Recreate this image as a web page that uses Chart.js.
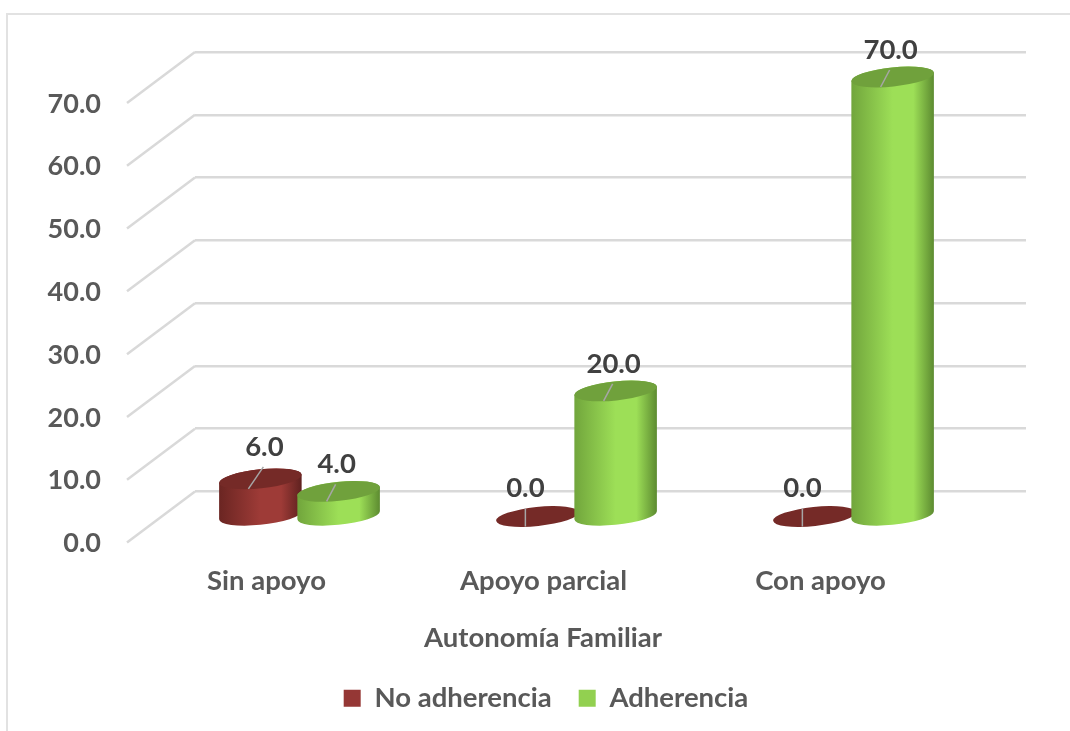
<!DOCTYPE html>
<html lang="es">
<head>
<meta charset="utf-8">
<title>Autonomía Familiar</title>
<script src="https://cdn.jsdelivr.net/npm/chart.js@4"></script>
<style>
  html, body { margin: 0; padding: 0; background: #fff; overflow: hidden; }
  #wrap { position: relative; width: 1070px; height: 731px; }
  #frame { position: absolute; left: 6px; top: 13px; right: 0; bottom: 0; border-left: 2px solid #e2e2e2; border-top: 2px solid #e2e2e2; }
  canvas { position: absolute; left: 0; top: 0; }
</style>
</head>
<body>
<div id="wrap">
  <div id="frame"></div>
  <canvas id="chart" width="1070" height="731"></canvas>
</div>
<script>
const categories = ['Sin apoyo', 'Apoyo parcial', 'Con apoyo'];
const noAdherencia = [6, 0, 0];
const adherencia = [4, 20, 70];
const axisTitle = 'Autonomía Familiar';

// depth of the fake 3D floor, wall -> front edge
const DEPTH_X = -68;
const DEPTH_Y = 51;
// cylinders stand half way along the floor
const BAR_DX = -34;
const BAR_DY = 25;
const TILT = -6 * Math.PI / 180;

const FONT = { family: 'Lato', weight: 'bold', size: 27.5 };

const palette = [
  { top: '#752a27', edge: '#6a2522', mid: '#9e3b37', dark: '#5e211f' },
  { top: '#70a13c', edge: '#71a53c', mid: '#9ddf57', dark: '#5c8a30' }
];

function sideGradient(ctx, x0, x1, c) {
  const g = ctx.createLinearGradient(x0, 0, x1, 0);
  g.addColorStop(0, c.edge);
  g.addColorStop(0.5, c.mid);
  g.addColorStop(0.75, c.mid);
  g.addColorStop(1, c.dark);
  return g;
}

function drawCylinder(ctx, cx, top, base, width, c) {
  const b = width * 0.115;
  // half width so the tilted ellipse spans the full bar width
  const a = width / 2;
  const t0 = Math.atan2(-b * Math.sin(TILT), a * Math.cos(TILT));

  if (base - top > 0.5) {
    ctx.beginPath();
    ctx.ellipse(cx, base, a, b, TILT, t0, t0 + Math.PI);
    ctx.ellipse(cx, top, a, b, TILT, t0 + Math.PI, t0 + 2 * Math.PI);
    ctx.closePath();
    ctx.fillStyle = sideGradient(ctx, cx - a, cx + a, c);
    ctx.fill();
  }
  ctx.beginPath();
  ctx.ellipse(cx, top, a, b, TILT, 0, 2 * Math.PI);
  ctx.fillStyle = c.top;
  ctx.fill();
}

const cylinders = {
  id: 'cylinders',
  afterLayout(chart) {
    // legend and title sit right of the canvas centre
    [[chart.legend, 33], [chart.titleBlock, 30]].forEach(([box, dx]) => {
      box.left += dx;
      box.right += dx;
    });
  },
  beforeDatasetsDraw(chart) {
    const { ctx, chartArea, scales } = chart;
    // floor lines running forward from the back wall
    ctx.save();
    ctx.strokeStyle = '#d9d9d9';
    ctx.lineWidth = 2.5;
    scales.y.ticks.forEach(t => {
      const y = scales.y.getPixelForValue(t.value);
      ctx.beginPath();
      ctx.moveTo(chartArea.left, y);
      ctx.lineTo(chartArea.left + DEPTH_X, y + DEPTH_Y);
      ctx.stroke();
    });
    ctx.restore();
  },
  beforeDatasetDraw() {
    return false; // native flat bars replaced below
  },
  afterDatasetsDraw(chart) {
    const { ctx } = chart;
    const labels = [];
    ctx.save();
    chart.data.datasets.forEach((ds, i) => {
      chart.getDatasetMeta(i).data.forEach((el, j) => {
        const cx = el.x + BAR_DX;
        const top = el.y + BAR_DY;
        drawCylinder(ctx, cx, top, el.base + BAR_DY, el.width, palette[i]);
        labels.push({ cx, top, value: ds.data[j], series: i });
      });
    });
    // leader lines and value labels
    ctx.lineWidth = 1.5;
    ctx.strokeStyle = '#a6a6a6';
    ctx.fillStyle = '#404040';
    ctx.font = 'bold 27.5px Lato';
    ctx.textAlign = 'center';
    ctx.textBaseline = 'middle';
    labels.forEach(({ cx, top, value, series }) => {
      ctx.beginPath();
      ctx.moveTo(cx - 12, top + 10);
      if (value === 0) {
        ctx.lineTo(cx - 12, top - 8);
        ctx.stroke();
        ctx.fillText(value.toFixed(1), cx - 12, top - 28);
      } else if (series === 0) {
        ctx.lineTo(cx + 3, top - 12);
        ctx.stroke();
        ctx.fillText(value.toFixed(1), cx + 4, top - 32);
      } else {
        ctx.lineTo(cx - 3, top - 7);
        ctx.stroke();
        ctx.fillText(value.toFixed(1), cx - 2, top - 27);
      }
    });
    ctx.restore();
  }
};

new Chart(document.getElementById('chart'), {
  type: 'bar',
  data: {
    labels: categories,
    datasets: [
      { label: 'No adherencia', data: noAdherencia, backgroundColor: '#953735' },
      { label: 'Adherencia', data: adherencia, backgroundColor: '#92d050' }
    ]
  },
  plugins: [cylinders],
  options: {
    responsive: false,
    animation: false,
    categoryPercentage: 0.565,
    barPercentage: 1.06,
    layout: { padding: { top: 52, right: 44, left: 0, bottom: 9 } },
    plugins: {
      tooltip: { enabled: false },
      title: {
        display: true,
        text: axisTitle,
        position: 'bottom',
        weight: 500,
        color: '#595959',
        font: FONT,
        padding: { top: 0, bottom: 3 }
      },
      legend: {
        position: 'bottom',
        weight: 1000,
        labels: {
          color: '#595959',
          font: FONT,
          boxWidth: 17,
          boxHeight: 17,
          padding: 27
        }
      }
    },
    scales: {
      x: {
        border: { display: false },
        grid: { display: false, drawTicks: false },
        afterFit(scale) { scale.height = 130; },
        ticks: {
          color: '#595959',
          font: FONT,
          maxRotation: 0,
          labelOffset: -67,
          padding: 73
        }
      },
      y: {
        min: 0,
        max: 70,
        border: { display: false },
        afterFit(scale) {
          scale.width = 195;
          // tick padding pushes the labels sideways, not the wall down
          scale.paddingTop = 0;
          scale.paddingBottom = 0;
        },
        grid: { color: '#d9d9d9', lineWidth: 2.5, drawTicks: false },
        ticks: {
          stepSize: 10,
          color: '#595959',
          font: { ...FONT, size: 27 },
          labelOffset: 52,
          padding: 94,
          callback: v => v.toFixed(1)
        }
      }
    }
  }
});
</script>
</body>
</html>
